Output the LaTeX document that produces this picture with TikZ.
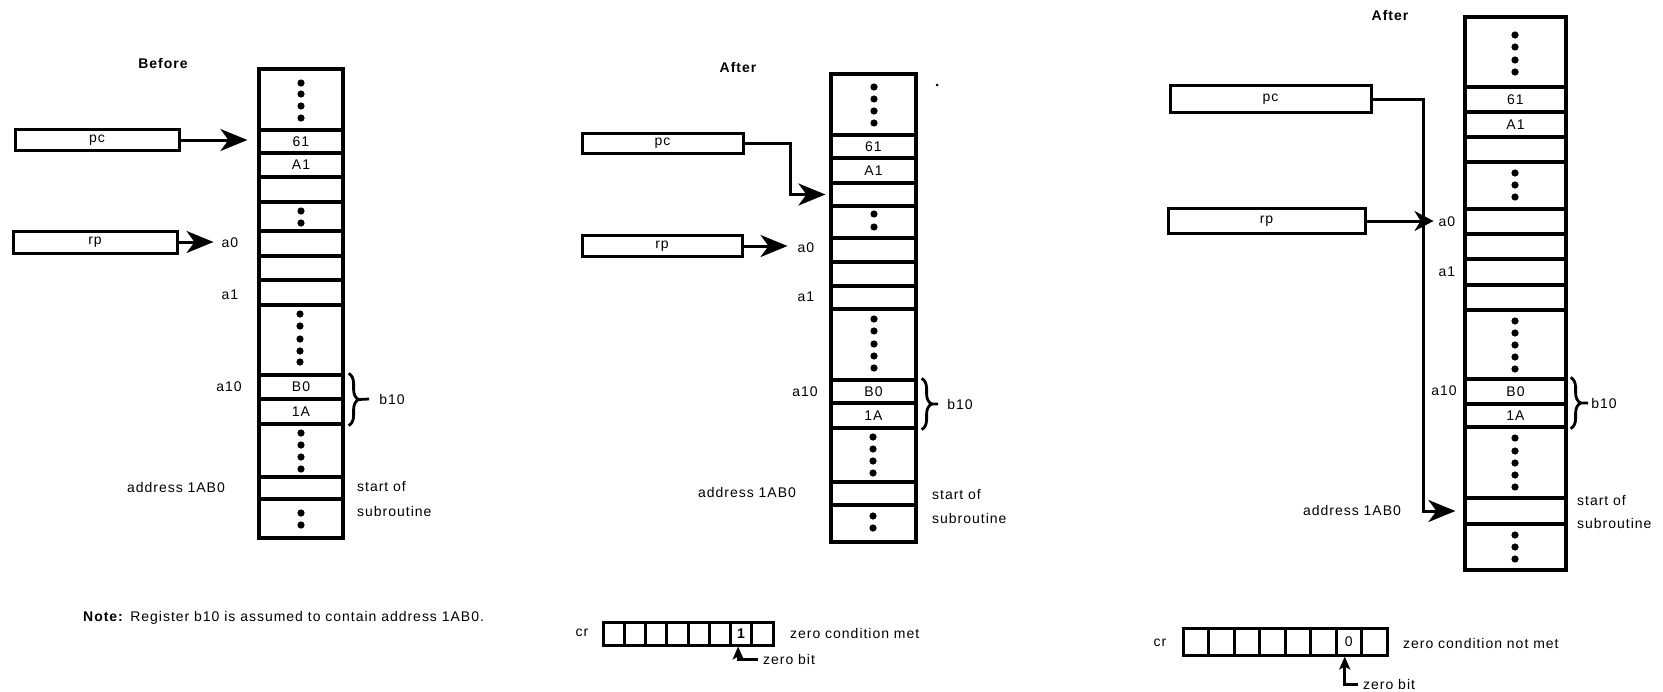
\documentclass[tikz,border=0pt]{standalone}
\usepackage{fontspec}
\setmainfont{Liberation Sans}[LetterSpace=7]
\usetikzlibrary{arrows.meta,decorations.pathreplacing,calc}
\newcommand\lab{\fontsize{14}{16}\selectfont}
\newcommand\memcell[6]{%
  \pgfmathsetmacro\mcx{(#2+#3)/2}\pgfmathsetmacro\mcy{(#4+#5)/2}%
  \pgfmathsetmacro\mcw{#3-#2}\pgfmathsetmacro\mch{#5-#4}%
  \node[cell,minimum width=\mcw pt,minimum height=\mch pt] (#1) at (\mcx,\mcy) {#6};}
\newcommand\vdts[2]{\foreach \yy in {#2} \fill (#1,\yy) circle (3.6pt);}
\tikzset{
  cell/.style={draw,line width=3.2pt,inner sep=0pt,font=\lab},
  reg/.style={draw,line width=3pt,inner sep=0pt,font=\lab},
  lbl/.style={inner sep=0pt,font=\lab},
  title/.style={inner sep=0pt,font=\lab\bfseries},
  conn/.style={line width=3pt,-{Stealth[length=27pt,width=22pt,inset=8pt]}},
  connsm/.style={line width=3pt,-{Stealth[length=19pt,width=20pt,inset=6pt]}},
  zb/.style={line width=3pt,-{Stealth[length=13pt,width=11pt,inset=3pt]}},
  brc/.style={line width=2.8pt,decorate,decoration={brace,amplitude=10pt}},
  tick/.style={line width=2.8pt}
}
\begin{document}
\begin{tikzpicture}[x=1pt,y=-1pt]
\useasboundingbox[fill=white] (0,0) rectangle (1663,691);

% ================= Panel 1: Before =================
\node[title] (t1) at (163,63) {Before};
\memcell{p1a}{259}{343}{69}{130}{}
\vdts{301}{83,94,106,118}
\memcell{p1b}{259}{343}{130}{153}{61}
\memcell{p1c}{259}{343}{153}{177}{A1}
\memcell{p1d}{259}{343}{177}{202}{}
\memcell{p1e}{259}{343}{202}{231}{}
\vdts{301}{211,223}
\memcell{p1f}{259}{343}{231}{256}{}
\memcell{p1g}{259}{343}{256}{280}{}
\memcell{p1h}{259}{343}{280}{305}{}
\memcell{p1i}{259}{343}{305}{375}{}
\vdts{300}{314,326,339,351,362}
\memcell{p1j}{259}{343}{375}{399}{B0}
\memcell{p1k}{259}{343}{399}{424}{1A}
\memcell{p1l}{259}{343}{424}{477}{}
\vdts{301}{433,445,457,469}
\memcell{p1m}{259}{343}{477}{499}{}
\memcell{p1n}{259}{343}{499}{538}{}
\vdts{301}{513,525}

\node[reg,minimum width=164pt,minimum height=21pt] (pc1) at (97,140) {pc};
\node[reg,minimum width=164pt,minimum height=22pt] (rp1) at (95,242) {rp};
\node[lbl] (a01) at (230,243) {a0};
\node[lbl] (a11) at (230,295) {a1};
\node[lbl] (a101) at (229,387) {a10};
\node[lbl] (b101) at (392,399) {b10};
\node[lbl] (ad1) at (176,487) {address 1AB0};
\node[lbl,anchor=west] (so1) at (357,486) {start of};
\node[lbl,anchor=west] (su1) at (357,511) {subroutine};
\draw[conn] (pc1.east) -- ([xshift=-10pt]pc1.east -| p1b.west);
\draw[conn] (rp1.east) -- ([xshift=-8pt]rp1.east -| a01.west);
\draw[brc] ([xshift=4pt]p1j.north east) -- ([xshift=4pt]p1k.south east);
\coordinate (p1tip) at ($(p1j.north east)!0.5!(p1k.south east)+(14,0)$);
\draw[tick] (p1tip) -- ([xshift=-10pt]b101.west);

\node[lbl,anchor=west] (note) at (83,618) {\textbf{Note:} Register b10 is assumed to contain address 1AB0.};

% ================= Panel 2: After (met) =================
\node[title] (t2) at (738,67) {After};
\memcell{p2a}{831}{916}{74}{135}{}
\vdts{874}{87,99,111,123}
\memcell{p2b}{831}{916}{135}{158}{61}
\memcell{p2c}{831}{916}{158}{183}{A1}
\memcell{p2d}{831}{916}{183}{206}{}
\memcell{p2e}{831}{916}{206}{238}{}
\vdts{874}{214,227}
\memcell{p2f}{831}{916}{238}{262}{}
\memcell{p2g}{831}{916}{262}{286}{}
\memcell{p2h}{831}{916}{286}{309}{}
\memcell{p2i}{831}{916}{309}{380}{}
\vdts{874}{319,331,344,356,368}
\memcell{p2j}{831}{916}{380}{403}{B0}
\memcell{p2k}{831}{916}{403}{428}{1A}
\memcell{p2l}{831}{916}{428}{482}{}
\vdts{873}{437,449,461,473}
\memcell{p2m}{831}{916}{482}{505}{}
\memcell{p2n}{831}{916}{505}{542}{}
\vdts{873}{516,528}
\fill (937,85) circle (1.5pt);

\node[reg,minimum width=161pt,minimum height=20pt] (pc2) at (662.5,143) {pc};
\node[reg,minimum width=160pt,minimum height=21pt] (rp2) at (662,246) {rp};
\node[lbl] (a02) at (806,248) {a0};
\node[lbl] (a12) at (806,297) {a1};
\node[lbl] (a102) at (805,392) {a10};
\node[lbl] (b102) at (960,404) {b10};
\node[lbl] (ad2) at (747,492) {address 1AB0};
\node[lbl,anchor=west] (so2) at (932,494) {start of};
\node[lbl,anchor=west] (su2) at (932,518) {subroutine};
\coordinate (p2bend) at (790,194.5);
\draw[conn] (pc2.east) -| (p2bend) -- ([xshift=-4pt]p2d.west);
\draw[conn] (rp2.east) -- ([xshift=-10pt]rp2.east -| a02.west);
\draw[brc] ([xshift=4pt]p2j.north east) -- ([xshift=4pt]p2k.south east);
\coordinate (p2tip) at ($(p2j.north east)!0.5!(p2k.south east)+(14,0)$);
\draw[tick] (p2tip) -- ([xshift=-9pt]b102.west);

\node[lbl] (cr2l) at (582,633) {cr};
\foreach \i in {1,...,8}
  \node[reg,minimum width=21.25pt,minimum height=23pt] (cr2\i) at ({603+(\i-0.5)*21.25},633.5) {};
\node[lbl,font=\lab\bfseries] (cr2v) at (cr27) {1};
\node[lbl,anchor=west] (zc2) at (790,633) {zero condition met};
\node[lbl,anchor=west] (zb2) at (763,659) {zero bit};
\draw[zb] ([xshift=-5pt]zb2.west) -| ([xshift=-3pt]cr27.south);

% ================= Panel 3: After (not met) =================
\node[title] (t3) at (1390,15) {After};
\memcell{p3a}{1465}{1566}{17}{87}{}
\vdts{1515}{35,47,60,72}
\memcell{p3b}{1465}{1566}{87}{112}{61}
\memcell{p3c}{1465}{1566}{112}{137}{A1}
\memcell{p3d}{1465}{1566}{137}{162}{}
\memcell{p3e}{1465}{1566}{162}{209}{}
\vdts{1515}{173,185,197}
\memcell{p3f}{1465}{1566}{209}{234}{}
\memcell{p3g}{1465}{1566}{234}{259}{}
\memcell{p3h}{1465}{1566}{259}{285}{}
\memcell{p3o}{1465}{1566}{285}{310}{}
\memcell{p3i}{1465}{1566}{310}{379}{}
\vdts{1515}{321,333,345,357,369}
\memcell{p3j}{1465}{1566}{379}{404}{B0}
\memcell{p3k}{1465}{1566}{404}{427}{1A}
\memcell{p3l}{1465}{1566}{427}{498}{}
\vdts{1515}{438,451,463,475,487}
\memcell{p3m}{1465}{1566}{498}{524}{}
\memcell{p3n}{1465}{1566}{524}{570}{}
\vdts{1515}{535,547,559}

\node[reg,minimum width=201pt,minimum height=27pt] (pc3) at (1270.5,99) {pc};
\node[reg,minimum width=197pt,minimum height=25pt] (rp3) at (1266.5,221) {rp};
\node[lbl] (a03) at (1447,222) {a0};
\node[lbl] (a13) at (1447,272) {a1};
\node[lbl] (a103) at (1444,391) {a10};
\node[lbl] (b103) at (1604,403) {b10};
\node[lbl] (ad3) at (1352,510) {address 1AB0};
\node[lbl,anchor=west] (so3) at (1577,500) {start of};
\node[lbl,anchor=west] (su3) at (1577,523) {subroutine};
\coordinate (p3bend) at (1423,511);
\draw[conn] (pc3.east) -| (p3bend) -- ([xshift=-8pt]p3m.west);
\draw[connsm] (rp3.east) -- ([xshift=-5pt]rp3.east -| a03.west);
\draw[brc] ([xshift=3pt]p3j.north east) -- ([xshift=3pt]p3k.south east);
\coordinate (p3tip) at ($(p3j.north east)!0.5!(p3k.south east)+(13,0)$);
\draw[tick] (p3tip) -- ([xshift=-3pt]b103.west);

\node[lbl] (cr3l) at (1160,643) {cr};
\foreach \i in {1,...,8}
  \node[reg,minimum width=25.5pt,minimum height=27pt] (cr3\i) at ({1183+(\i-0.5)*25.5},641.5) {};
\node[lbl] (cr3v) at (cr37) {0};
\node[lbl,anchor=west] (zc3) at (1403,643) {zero condition not met};
\node[lbl,anchor=west] (zb3) at (1363,684) {zero bit};
\draw[zb] ([xshift=-5pt]zb3.west) -| ([xshift=-4pt]cr37.south);
\end{tikzpicture}
\end{document}
